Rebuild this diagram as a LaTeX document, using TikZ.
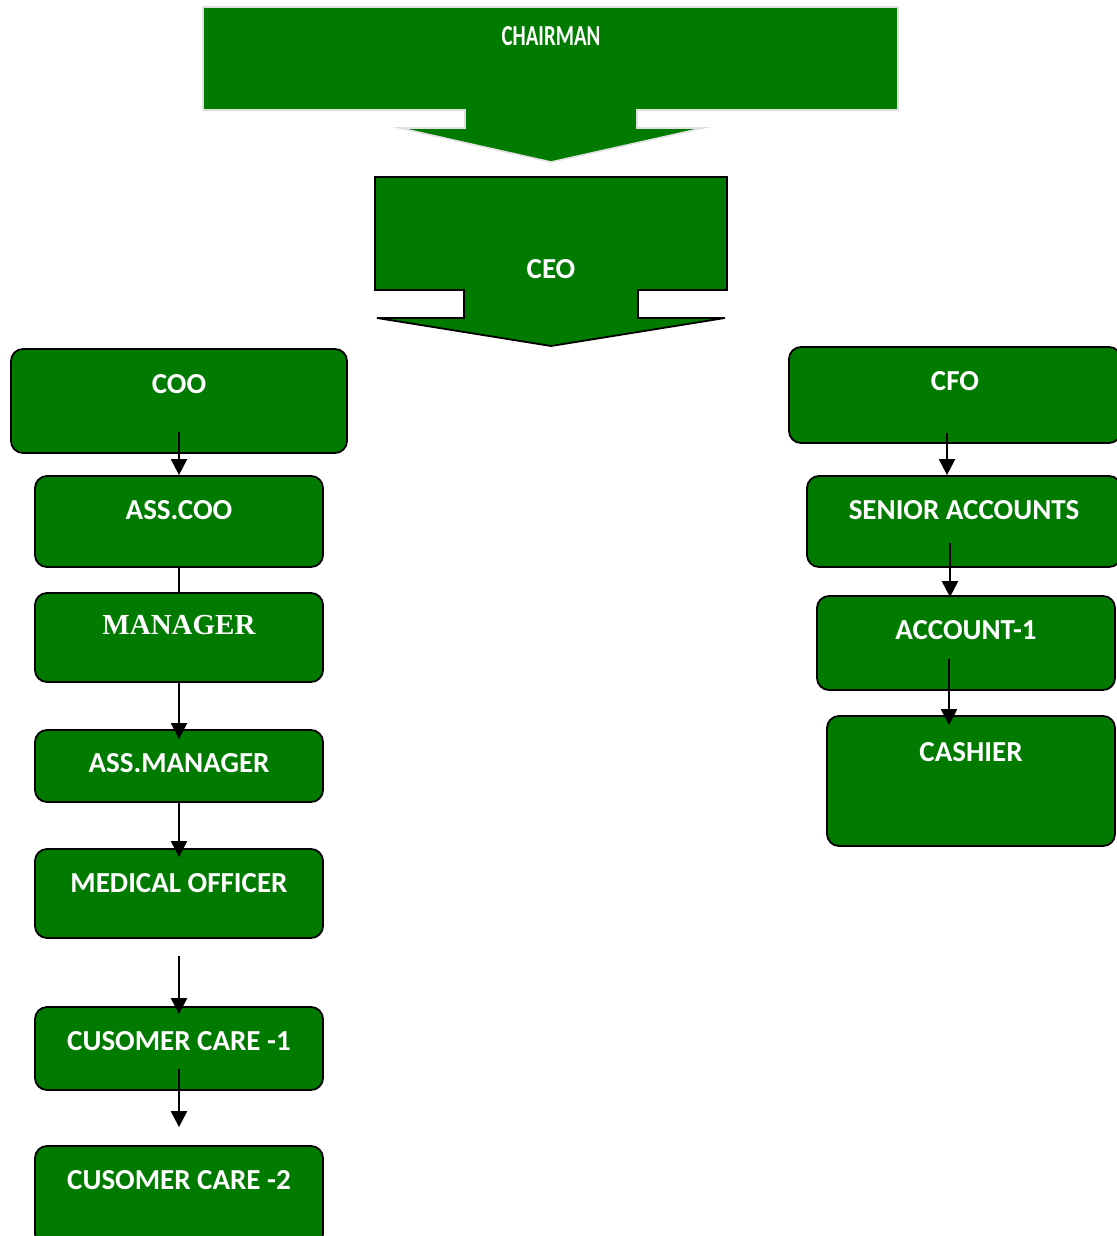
\documentclass[tikz,border=0pt]{standalone}
\usepackage{fontspec}
\setmainfont{Carlito}
\newfontfamily\timesbold{Liberation Serif}
\usetikzlibrary{arrows.meta}
\definecolor{orggreen}{RGB}{0,123,0}

\begin{document}
\begin{tikzpicture}[x=0.5pt,y=-0.5pt,
    orgbox/.style={draw=black,line width=0.9pt,fill=orggreen,rounded corners=6pt,inner sep=0pt,
      text=white,font=\fontsize{14.5}{17}\selectfont\bfseries,text height=10pt},
    toptext/.style={text=white,font=\fontsize{14.5}{17}\selectfont\bfseries,inner sep=0pt},
    link/.style={line width=1.1pt,-{Triangle[width=8pt,length=8pt]}}]
  \useasboundingbox (0,0) rectangle (1116,1236);
  % block arrows at the top
  \fill[orggreen,draw=black!12,line width=0.8pt] (203,7) -- (898,7) -- (898,110) -- (637,110) -- (637,128) -- (703,128)
    -- (551,162) -- (400,128) -- (465,128) -- (465,110) -- (203,110) -- cycle;
  \node[toptext] (chairman) at (551,36) {\scalebox{0.72}[1]{CHAIRMAN}};
  \filldraw[fill=orggreen,draw=black,line width=0.9pt] (375,177) -- (727,177) -- (727,290) -- (638,290) -- (638,318) -- (725,318)
    -- (551,346) -- (377,318) -- (464,318) -- (464,290) -- (375,290) -- cycle;
  \node[toptext] (ceo) at (551,269) {CEO};
  % left column
  \node[orgbox,minimum width=168pt,minimum height=52pt,text depth=18pt] (coo) at (179,401) {COO};
  \node[orgbox,minimum width=144pt,minimum height=45.5pt,text depth=12.5pt] (asscoo) at (179,521.5) {ASS.COO};
  \node[orgbox,minimum width=144pt,minimum height=44.5pt,text depth=13.5pt,font=\fontsize{14.5}{17}\timesbold\bfseries] (manager) at (179,637.5) {MANAGER};
  \node[orgbox,minimum width=144pt,minimum height=36pt,text depth=4pt] (assmanager) at (179,766) {ASS.MANAGER};
  \node[orgbox,minimum width=144pt,minimum height=44.5pt,text depth=11.5pt] (medical) at (179,893.5) {MEDICAL OFFICER};
  \node[orgbox,minimum width=144pt,minimum height=41.5pt,text depth=8.5pt] (care1) at (179,1048.5) {CUSOMER CARE -1};
  \node[orgbox,minimum width=144pt,minimum height=50pt,text depth=17pt] (care2) at (179,1196) {CUSOMER CARE -2};
  % right column
  \node[orgbox,minimum width=166pt,minimum height=48pt,text depth=15pt] (cfo) at (955,395) {CFO};
  \node[orgbox,minimum width=157pt,minimum height=45.5pt,text depth=12.5pt] (senior) at (964,521.5) {SENIOR ACCOUNTS};
  \node[orgbox,minimum width=149pt,minimum height=47pt,text depth=14pt] (account) at (966,643) {ACCOUNT-1};
  \node[orgbox,minimum width=144pt,minimum height=65pt,text depth=30pt] (cashier) at (971,781) {CASHIER};
  % connectors
  \draw[link] ([yshift=11pt]coo.south) -- (asscoo.north);
  \draw[line width=1.1pt] (asscoo.south) -- (manager.north);
  \draw[link] (manager.south) -- ([yshift=-5pt]assmanager.north);
  \draw[link] (assmanager.south) -- ([yshift=-4.5pt]medical.north);
  \draw[link] ([yshift=-8.5pt]medical.south) -- ([yshift=-4pt]care1.north);
  \coordinate (careend) at ([yshift=9pt]care2.north);
  \draw[link] ([yshift=11pt]care1.south) -- (careend);
  \draw[link] ([xshift=-4pt,yshift=5.5pt]cfo.south) coordinate (c1) -- (c1 |- senior.north);
  \draw[link] ([xshift=-7pt,yshift=12.5pt]senior.south) coordinate (c2) -- ([yshift=-1pt]c2 |- account.north);
  \draw[link] ([xshift=-8.5pt,yshift=16pt]account.south) coordinate (c3) -- ([yshift=-5pt]c3 |- cashier.north);
\end{tikzpicture}
\end{document}
